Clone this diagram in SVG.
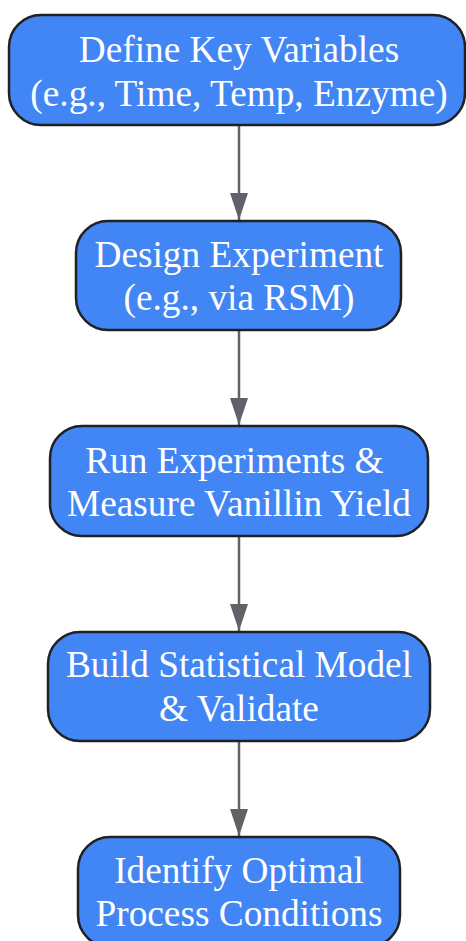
<svg xmlns="http://www.w3.org/2000/svg" width="466" height="941" viewBox="0 0 466 941">
<defs>
<style>
.box{fill:#4285f4;stroke:#202124;stroke-width:2.5;}
.lbl{font-family:"Liberation Serif","Times New Roman",serif;font-size:37.3px;fill:#ffffff;text-anchor:middle;}
.edge{stroke:#5f6368;stroke-width:2.5;fill:none;marker-end:url(#arr);}
</style>
<marker id="arr" viewBox="0 0 27 18" refX="27" refY="9" markerWidth="27" markerHeight="18" markerUnits="userSpaceOnUse" orient="auto">
<path d="M0,0 L27,9 L0,18 Z" fill="#5f6368"/>
</marker>
</defs>
<rect width="466" height="941" fill="#ffffff"/>
<g id="connectors">
<line class="edge" x1="239" y1="125" x2="239" y2="220"/>
<line class="edge" x1="239" y1="331" x2="239" y2="425"/>
<line class="edge" x1="239" y1="536" x2="239" y2="631"/>
<line class="edge" x1="239" y1="742" x2="239" y2="836"/>
</g>
<g id="node1">
<rect class="box" x="9" y="15" width="456" height="110" rx="32" ry="32"/>
<text class="lbl" x="239" y="62">Define Key Variables</text>
<text class="lbl" x="239" y="106">(e.g., Time, Temp, Enzyme)</text>
</g>
<g id="node2">
<rect class="box" x="76" y="221" width="325" height="109" rx="32" ry="32"/>
<text class="lbl" x="239" y="267">Design Experiment</text>
<text class="lbl" x="239" y="310">(e.g., via RSM)</text>
</g>
<g id="node3">
<rect class="box" x="50" y="426" width="378" height="110" rx="32" ry="32"/>
<text class="lbl" x="234.4" y="473">Run Experiments &amp;</text>
<text class="lbl" x="239" y="516">Measure Vanillin Yield</text>
</g>
<g id="node4">
<rect class="box" x="48" y="632" width="382" height="109" rx="32" ry="32"/>
<text class="lbl" x="239" y="677">Build Statistical Model</text>
<text class="lbl" x="239" y="721">&amp; Validate</text>
</g>
<g id="node5">
<rect class="box" x="78" y="837" width="322" height="110" rx="32" ry="32"/>
<text class="lbl" x="239" y="883">Identify Optimal</text>
<text class="lbl" x="239" y="926">Process Conditions</text>
</g>
</svg>
